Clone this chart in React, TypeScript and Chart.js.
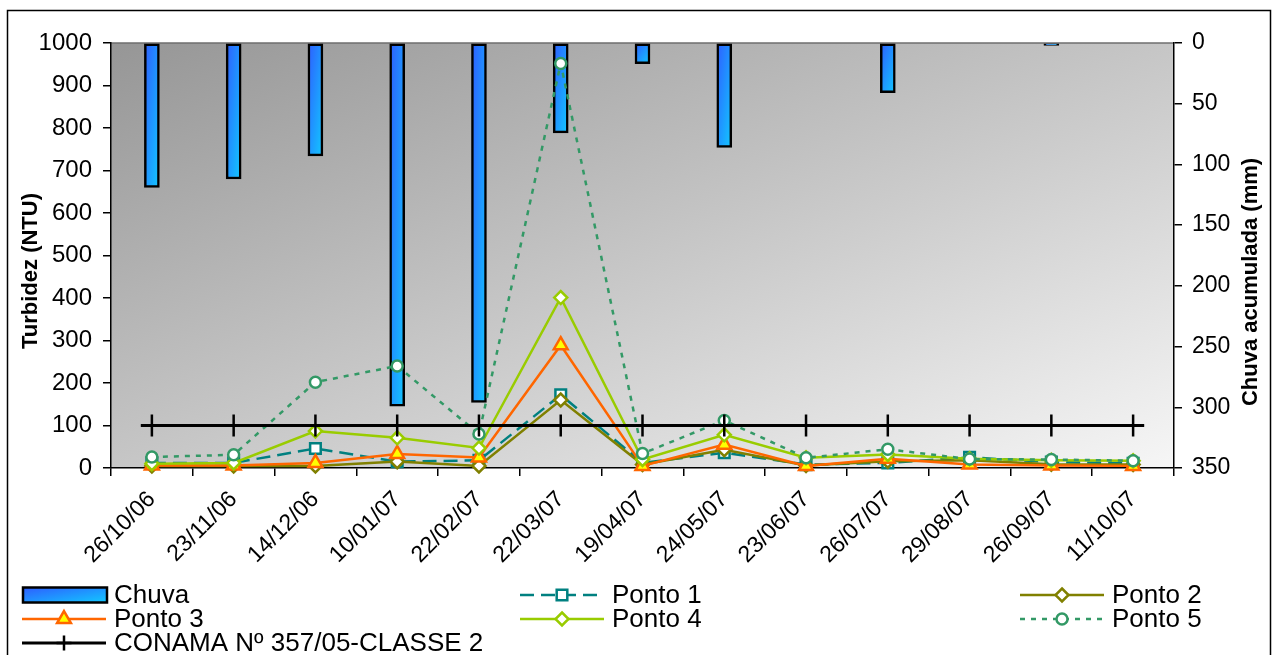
import React, { useEffect, useRef } from 'react';
import { Chart, registerables } from 'chart.js';

Chart.register(...registerables);

const FONT = '"Liberation Sans", Arial, Helvetica, sans-serif';

const categories = ['26/10/06', '23/11/06', '14/12/06', '10/01/07', '22/02/07', '22/03/07', '19/04/07', '24/05/07', '23/06/07', '26/07/07', '29/08/07', '26/09/07', '11/10/07'];
const chuva = [119, 112, 93, 299, 296, 74, 17, 86, 0, 41, 0, 2, 0];
const ponto1 = [12, 12, 46, 15, 18, 172, 12, 36, 8, 12, 25, 14, 11];
const ponto2 = [5, 5, 5, 15, 5, 160, 8, 43, 6, 16, 18, 9, 8];
const ponto3 = [6, 6, 12, 33, 25, 289, 5, 55, 5, 22, 8, 6, 5];
const ponto4 = [10, 12, 87, 71, 47, 401, 20, 78, 24, 32, 22, 18, 17];
const ponto5 = [26, 31, 202, 240, 80, 952, 34, 112, 24, 44, 21, 20, 17];
const conama = [100, 100, 100, 100, 100, 100, 100, 100, 100, 100, 100, 100, 100];

const turbidezMin = 0;
const turbidezMax = 1000;
const turbidezStep = 100;
const chuvaMin = 0;
const chuvaMax = 350;
const chuvaStep = 50;

const BLUE_A = '#2e5eff';
const BLUE_B = '#12c8ff';

function diagGradient(ctx: CanvasRenderingContext2D, x0: number, y0: number, w: number, h: number) {
  const iw = 1 / Math.max(w, 0.5);
  const ih = 1 / Math.max(h, 0.5);
  const k = 2 / (iw * iw + ih * ih);
  const g = ctx.createLinearGradient(x0, y0, x0 + k * iw, y0 + k * ih);
  g.addColorStop(0, BLUE_A);
  g.addColorStop(1, BLUE_B);
  return g;
}

function drawMarker(ctx: CanvasRenderingContext2D, style: string, x: number, y: number, r: number, fill: string, stroke: string, lw: number) {
  ctx.save();
  ctx.setLineDash([]);
  ctx.fillStyle = fill;
  ctx.strokeStyle = stroke;
  ctx.lineWidth = lw;
  ctx.beginPath();
  if (style === 'rect') {
    const s = r * Math.SQRT1_2;
    ctx.rect(x - s, y - s, 2 * s, 2 * s);
  } else if (style === 'rectRot') {
    ctx.moveTo(x, y - r);
    ctx.lineTo(x + r, y);
    ctx.lineTo(x, y + r);
    ctx.lineTo(x - r, y);
    ctx.closePath();
  } else if (style === 'triangle') {
    ctx.moveTo(x, y - r);
    ctx.lineTo(x + r * 0.866, y + r * 0.5);
    ctx.lineTo(x - r * 0.866, y + r * 0.5);
    ctx.closePath();
  } else if (style === 'circle') {
    ctx.arc(x, y, r, 0, Math.PI * 2);
  } else if (style === 'cross') {
    ctx.moveTo(x, y - r);
    ctx.lineTo(x, y + r);
    ctx.moveTo(x - r, y);
    ctx.lineTo(x + r, y);
    ctx.stroke();
    ctx.restore();
    return;
  }
  ctx.fill();
  ctx.stroke();
  ctx.restore();
}

const lineStyles = [
  { label: 'Ponto 1', data: ponto1, color: '#008080', dash: [14, 7], point: 'rect', radius: 7.5, legR: 7.5, fill: '#ffffff', col: 1, row: 0, order: 6 },
  { label: 'Ponto 2', data: ponto2, color: '#808000', dash: [], point: 'rectRot', radius: 6.5, legR: 6.5, fill: '#ffffff', col: 2, row: 0, order: 5 },
  { label: 'Ponto 3', data: ponto3, color: '#ff6600', dash: [], point: 'triangle', radius: 8, legR: 8, fill: '#ffff00', col: 0, row: 1, order: 4 },
  { label: 'Ponto 4', data: ponto4, color: '#99cc00', dash: [], point: 'rectRot', radius: 6.5, legR: 6.5, fill: '#ffffff', col: 1, row: 1, order: 3 },
  { label: 'Ponto 5', data: ponto5, color: '#339966', dash: [5, 6], point: 'circle', radius: 5.5, legR: 5.5, fill: '#ffffff', col: 2, row: 1, order: 2 },
  { label: 'CONAMA Nº 357/05-CLASSE 2', data: conama, color: '#000000', dash: [], point: 'cross', radius: 11, legR: 7.5, fill: '#000000', col: 0, row: 2, order: 1 },
];

const LEG_COLS = [22, 520, 1020];
const LEG_ROWS = [595, 619, 643];

const framePlugin = {
  id: 'frame',
  beforeDraw(chart: any) {
    const { ctx, chartArea: a } = chart;
    ctx.save();
    ctx.fillStyle = '#ffffff';
    ctx.fillRect(0, 0, chart.width, chart.height);
    ctx.strokeStyle = '#000000';
    ctx.lineWidth = 1.5;
    ctx.strokeRect(7.5, 10.5, 1263, 700);
    ctx.translate(a.left, a.top);
    ctx.scale(a.right - a.left, a.bottom - a.top);
    const g = ctx.createLinearGradient(0, 0, 1, 1);
    g.addColorStop(0, '#969696');
    g.addColorStop(1, '#f6f6f6');
    ctx.fillStyle = g;
    ctx.fillRect(0, 0, 1, 1);
    ctx.restore();
    ctx.save();
    ctx.strokeStyle = '#6e6e6e';
    ctx.lineWidth = 1.5;
    ctx.beginPath();
    ctx.moveTo(a.left, a.top);
    ctx.lineTo(a.right, a.top);
    ctx.stroke();
    ctx.restore();
  },
  afterDatasetsDraw(chart: any) {
    // CONAMA line extends a little beyond its first and last points
    const idx = chart.data.datasets.length - 1;
    const meta = chart.getDatasetMeta(idx);
    const pts = meta.data;
    if (!pts.length) return;
    const { ctx } = chart;
    ctx.save();
    ctx.strokeStyle = '#000000';
    ctx.lineWidth = 3;
    ctx.beginPath();
    ctx.moveTo(pts[0].x - 11, pts[0].y);
    ctx.lineTo(pts[0].x, pts[0].y);
    ctx.moveTo(pts[pts.length - 1].x, pts[pts.length - 1].y);
    ctx.lineTo(pts[pts.length - 1].x + 11, pts[pts.length - 1].y);
    ctx.stroke();
    ctx.restore();
  },
  afterDraw(chart: any) {
    const { ctx } = chart;
    ctx.save();
    ctx.fillStyle = '#000000';
    ctx.font = `bold 22px ${FONT}`;
    ctx.textAlign = 'center';
    ctx.textBaseline = 'middle';
    ctx.save();
    ctx.translate(31, 271);
    ctx.rotate(-Math.PI / 2);
    ctx.fillText('Turbidez (NTU)', 0, 0);
    ctx.restore();
    ctx.save();
    ctx.translate(1251, 282);
    ctx.rotate(-Math.PI / 2);
    ctx.fillText('Chuva acumulada (mm)', 0, 0);
    ctx.restore();

    // legend
    ctx.font = `26px ${FONT}`;
    ctx.textAlign = 'left';
    ctx.textBaseline = 'middle';
    {
      const x0 = LEG_COLS[0];
      const y = LEG_ROWS[0];
      const w = 84;
      const h = 15;
      ctx.fillStyle = diagGradient(ctx, x0 + 1, y - h / 2, w, h);
      ctx.fillRect(x0 + 1, y - h / 2, w, h);
      ctx.strokeStyle = '#000000';
      ctx.lineWidth = 2.5;
      ctx.strokeRect(x0 + 1, y - h / 2, w, h);
      ctx.fillStyle = '#000000';
      ctx.fillText('Chuva', x0 + 92, y + 1);
    }
    for (const s of lineStyles) {
      const x0 = LEG_COLS[s.col];
      const y = LEG_ROWS[s.row];
      ctx.save();
      ctx.strokeStyle = s.color;
      ctx.lineWidth = s.color === '#000000' ? 3 : 2.5;
      ctx.setLineDash(s.dash);
      ctx.beginPath();
      ctx.moveTo(x0, y);
      ctx.lineTo(x0 + 84, y);
      ctx.stroke();
      ctx.restore();
      drawMarker(ctx, s.point, x0 + 42, y, s.legR, s.fill, s.color, 2.5);
      ctx.fillStyle = '#000000';
      ctx.fillText(s.label, x0 + 92, y + 1);
    }
    ctx.restore();
  },
};

export default function App() {
  const ref = useRef<HTMLCanvasElement | null>(null);

  useEffect(() => {
    if (!ref.current) return;
    const lineDatasets = lineStyles.map((s) => ({
      type: 'line' as const,
      label: s.label,
      data: s.data,
      yAxisID: 'y',
      borderColor: s.color,
      backgroundColor: s.fill,
      borderWidth: s.color === '#000000' ? 3 : 2.5,
      borderDash: s.dash,
      pointStyle: s.point,
      pointRadius: s.radius,
      pointBorderWidth: 2.5,
      pointBorderColor: s.color,
      pointBackgroundColor: s.fill,
      tension: 0,
      fill: false,
      order: s.order,
      clip: 12,
    }));

    const chart = new Chart(ref.current, {
      type: 'bar',
      data: {
        labels: categories,
        datasets: [
          {
            type: 'bar' as const,
            label: 'Chuva',
            data: chuva,
            yAxisID: 'y2',
            barThickness: 15,
            borderColor: '#000000',
            borderWidth: 2.5,
            borderSkipped: false,
            order: 7,
            backgroundColor: (c: any) => {
              const ch = c.chart;
              const xs = ch.scales?.x;
              const ys = ch.scales?.y2;
              if (!xs || !ys || c.dataIndex === undefined || !ch.chartArea) return '#2090ff';
              const x = xs.getPixelForValue(c.dataIndex);
              const y0 = ys.getPixelForValue(0);
              const y1 = ys.getPixelForValue(c.raw as number);
              return diagGradient(ch.ctx, x - 7.5, y0, 15, Math.max(y1 - y0, 1));
            },
          } as any,
          ...lineDatasets,
        ],
      },
      options: {
        responsive: false,
        animation: false,
        devicePixelRatio: 1,
        layout: { padding: { top: 43, left: 0, right: 0, bottom: 0 } },
        plugins: {
          legend: { display: false },
          tooltip: { enabled: false },
        },
        scales: {
          x: {
            type: 'category',
            offset: true,
            grid: { offset: true, drawOnChartArea: false, tickLength: 8, color: '#000000', lineWidth: 1.5 },
            border: { display: true, color: '#000000', width: 1.5 },
            ticks: {
              autoSkip: false,
              maxRotation: 45,
              minRotation: 45,
              padding: 10,
              labelOffset: 0,
              color: '#000000',
              font: { family: FONT, size: 23 },
            },
            afterFit: (s: any) => {
              s.height = 187;
            },
          },
          y: {
            type: 'linear',
            position: 'left',
            min: turbidezMin,
            max: turbidezMax,
            ticks: {
              stepSize: turbidezStep,
              padding: 11,
              color: '#000000',
              font: { family: FONT, size: 24 },
              callback: (v: any) => String(v),
            },
            grid: { drawOnChartArea: false, tickLength: 8, color: '#000000', lineWidth: 1.5 },
            border: { display: true, color: '#000000', width: 1.5 },
            afterFit: (s: any) => {
              s.width = 111;
            },
          },
          y2: {
            type: 'linear',
            position: 'right',
            reverse: true,
            min: chuvaMin,
            max: chuvaMax,
            ticks: {
              stepSize: chuvaStep,
              padding: 10,
              color: '#000000',
              font: { family: FONT, size: 23 },
              callback: (v: any) => String(v),
            },
            grid: { drawOnChartArea: false, tickLength: 8, color: '#000000', lineWidth: 1.5 },
            border: { display: true, color: '#000000', width: 1.5 },
            afterFit: (s: any) => {
              s.width = 100;
            },
          },
        },
      } as any,
      plugins: [framePlugin],
    });
    return () => chart.destroy();
  }, []);

  return (
    <div style={{ position: 'fixed', left: 0, top: 0, width: 1274, height: 655, background: '#ffffff' }}>
      <canvas ref={ref} width={1274} height={655} style={{ display: 'block' }} />
    </div>
  );
}
